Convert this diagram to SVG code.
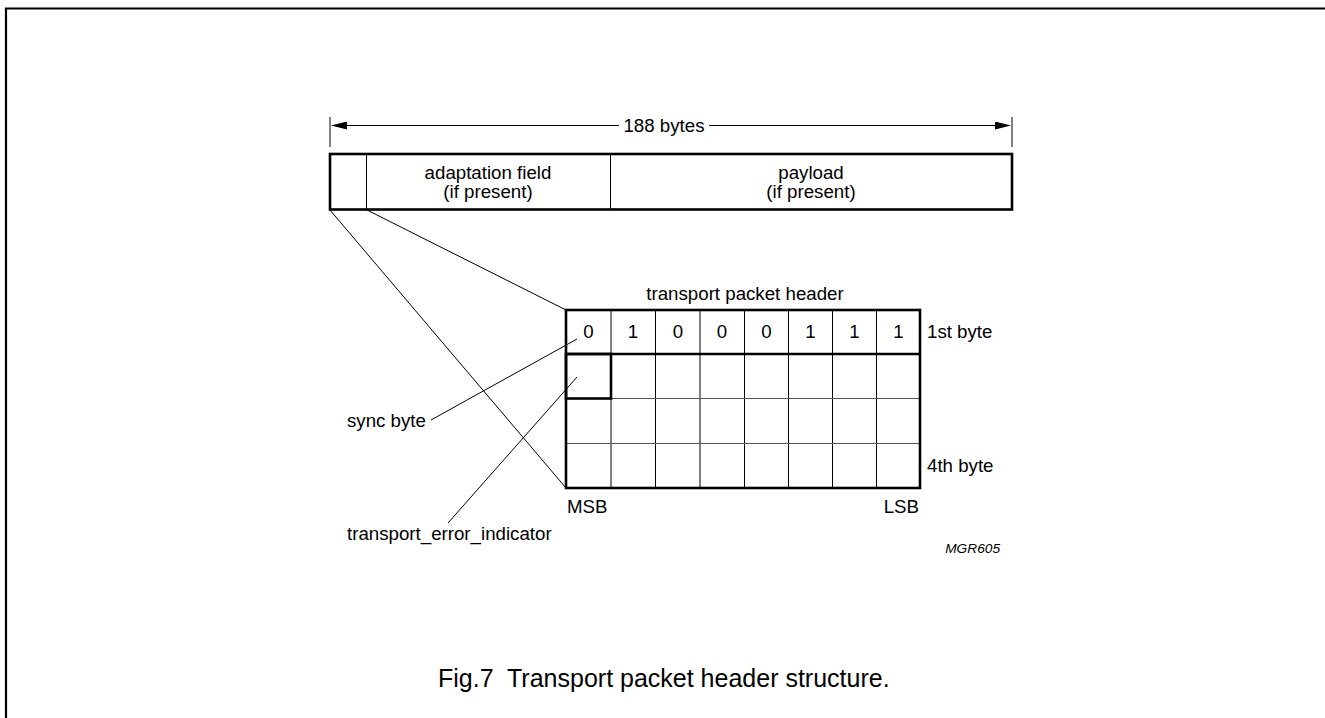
<svg xmlns="http://www.w3.org/2000/svg" width="1325" height="718" viewBox="0 0 1325 718">
<style>
text{font-family:"Liberation Sans",Arial,sans-serif;fill:#000}
.lbl{font-size:18.7px}
.c{text-anchor:middle}
.thin{stroke:#000;stroke-width:1;fill:none}
.thick{stroke:#000;stroke-width:2.6;fill:none}
.frame{stroke:#000;stroke-width:2.2;fill:none}
</style>
<defs>
<marker id="ah" markerWidth="16" markerHeight="8" refX="15" refY="4" orient="auto-start-reverse" markerUnits="userSpaceOnUse">
<path d="M0,0 L16,4 L0,8 Z" fill="#000"/>
</marker>
</defs>
<rect width="1325" height="718" fill="#fff"/>
<path class="frame" d="M6,718 V8.5 H1325"/>

<g id="dimension">
<line class="thin" x1="330" y1="117" x2="330" y2="147" stroke="#444"/>
<line class="thin" x1="1012" y1="117" x2="1012" y2="147" stroke="#444"/>
<line class="thin" x1="332" y1="125.5" x2="619" y2="125.5" marker-start="url(#ah)"/>
<line class="thin" x1="709" y1="125.5" x2="1010" y2="125.5" marker-end="url(#ah)"/>
<text class="lbl c" x="664" y="132">188 bytes</text>
</g>

<g id="packet">
<rect class="thick" x="330" y="154" width="682" height="55.5" stroke-width="2"/>
<line class="thin" x1="366.5" y1="154" x2="366.5" y2="209.5" stroke-width="1.6"/>
<line class="thin" x1="610.5" y1="154" x2="610.5" y2="209.5" stroke-width="1.6"/>
<text class="lbl c" x="488" y="179">adaptation field</text>
<text class="lbl c" x="488" y="198">(if present)</text>
<text class="lbl c" x="811" y="179">payload</text>
<text class="lbl c" x="811" y="198">(if present)</text>
</g>

<g id="connectors">
<line class="thin" x1="330" y1="210" x2="566" y2="488"/>
<line class="thin" x1="367" y1="210" x2="566" y2="310"/>
<line class="thin" x1="431" y1="420" x2="577" y2="339"/>
<line class="thin" x1="448" y1="523" x2="577" y2="377"/>
</g>

<g id="header">
<text class="lbl c" x="745" y="300">transport packet header</text>
<g class="thin">
<line x1="611" y1="310" x2="611" y2="488"/>
<line x1="655.5" y1="310" x2="655.5" y2="488"/>
<line x1="700" y1="310" x2="700" y2="488"/>
<line x1="744.5" y1="310" x2="744.5" y2="488"/>
<line x1="788.5" y1="310" x2="788.5" y2="488"/>
<line x1="832.5" y1="310" x2="832.5" y2="488"/>
<line x1="876.5" y1="310" x2="876.5" y2="488"/>
<line x1="566" y1="398.5" x2="920" y2="398.5" stroke="#555" stroke-width="1.2"/>
<line x1="566" y1="443.5" x2="920" y2="443.5" stroke="#555" stroke-width="1.2"/>
</g>
<rect class="thick" x="566" y="310" width="354" height="178"/>
<line class="thick" x1="566" y1="354" x2="920" y2="354"/>
<rect class="thick" x="566" y="354" width="45" height="44.5" stroke-width="2.2"/>
<g class="lbl c">
<text x="588.5" y="338">0</text>
<text x="633" y="338">1</text>
<text x="678" y="338">0</text>
<text x="722" y="338">0</text>
<text x="766.5" y="338">0</text>
<text x="810.5" y="338">1</text>
<text x="854.5" y="338">1</text>
<text x="898.5" y="338">1</text>
</g>
<text class="lbl" x="927" y="338">1st byte</text>
<text class="lbl" x="927" y="472">4th byte</text>
<text class="lbl" x="567" y="513">MSB</text>
<text class="lbl" x="919" y="513" text-anchor="end">LSB</text>
</g>

<g id="labels">
<text class="lbl" x="347" y="427">sync byte</text>
<text class="lbl" x="347" y="540">transport_error_indicator</text>
<text x="1000" y="553" font-size="13.7" font-style="italic" text-anchor="end">MGR605</text>
<text x="438" y="687" font-size="25" xml:space="preserve" style="white-space:pre">Fig.7  Transport packet header structure.</text>
</g>
</svg>
